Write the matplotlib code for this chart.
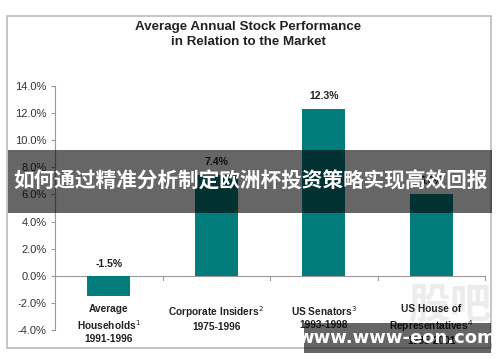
import numpy as np
import matplotlib.pyplot as plt
from matplotlib.patches import Rectangle

plt.rcParams['font.family'] = ['Liberation Sans', 'DejaVu Sans']

# 数据
categories = ['Average\nHouseholds$^1$\n1991-1996',
              'Corporate Insiders$^2$\n1975-1996',
              'US Senators$^3$\n1993-1998',
              'US House of\nRepresentatives$^4$\n1985-2001']
values = [-1.5, 7.4, 12.3, 6.0]
yticks = [-4, -2, 0, 2, 4, 6, 8, 10, 12, 14]

bar_color = '#037d7b'
axis_gray = '#999999'

fig = plt.figure(figsize=(5.0, 3.62), dpi=100)
ax = fig.add_axes([0.11, 0.0884, 0.86, 0.674])
ax.set_facecolor('none')

x = np.arange(len(values))
ax.bar(x, values, width=0.4, color=bar_color, zorder=2)

# 数值标签
for xi, v in zip(x, values):
    yl = v + 0.6 if v > 0 else 0.5
    ax.text(xi, yl, f'{v:.1f}%', ha='center', va='bottom',
            fontsize=7.5, fontweight='bold', color='#222222')

ax.set_xlim(-0.5, len(values) - 0.5)
ax.set_ylim(-4, 14)
ax.set_yticks(yticks)
ax.set_yticklabels([f'{t:.1f}%' for t in yticks], fontsize=8, color='#333333')
ax.tick_params(axis='y', length=3, color=axis_gray, pad=3)
ax.set_xticks([])

for s in ['top', 'right', 'bottom']:
    ax.spines[s].set_visible(False)
ax.spines['left'].set_color(axis_gray)

# 零线及分类刻度
ax.axhline(0, color=axis_gray, lw=0.8, zorder=1)
for b in np.arange(0.5, len(values), 1.0):
    ax.plot([b, b], [0, -0.3], color=axis_gray, lw=0.8, clip_on=False)

# 水印 “股吧”（置于图表之后）
fig.text(0.9, 0.155, '股吧', ha='center', va='center', fontsize=30,
         fontweight='bold', color='#ececec', family=['Noto Sans CJK SC'], zorder=-1)

# 分类标签
for xi, c in zip(x, categories):
    ax.text(xi, -2.1, c, ha='center', va='top', fontsize=7.3,
            fontweight='bold', color='#222222', linespacing=1.3)

# 标题
fig.text(0.496, 0.905, 'Average Annual Stock Performance\nin Relation to the Market',
         ha='center', va='center', fontsize=9.6, fontweight='bold',
         color='#222222', linespacing=1.3)

# 外框
fig.patches.append(Rectangle((0.014, 0.04), 0.967, 0.915, transform=fig.transFigure,
                             fill=False, edgecolor='#bbbbbb', lw=1.2))

# 横幅
fig.patches.append(Rectangle((0.016, 0.4116), 0.968, 0.174, transform=fig.transFigure,
                             facecolor='black', alpha=0.6, edgecolor='none', zorder=5))
fig.text(0.5, 0.5, '如何通过精准分析制定欧洲杯投资策略实现高效回报', ha='center', va='center',
         fontsize=14.9, fontweight='bold', color='white',
         family=['Noto Sans CJK SC', 'DejaVu Sans'], zorder=6)

# 底部网址
fig.patches.append(Rectangle((0.608, 0.025), 0.374, 0.083, transform=fig.transFigure,
                             facecolor='black', alpha=0.6, edgecolor='none', zorder=5))
fig.text(0.794, 0.066, 'www.www-eon.com', ha='center', va='center',
         fontsize=13, fontweight='bold', color='white', family=['DejaVu Sans'], zorder=6)

fig.savefig('out.png', dpi=100)
